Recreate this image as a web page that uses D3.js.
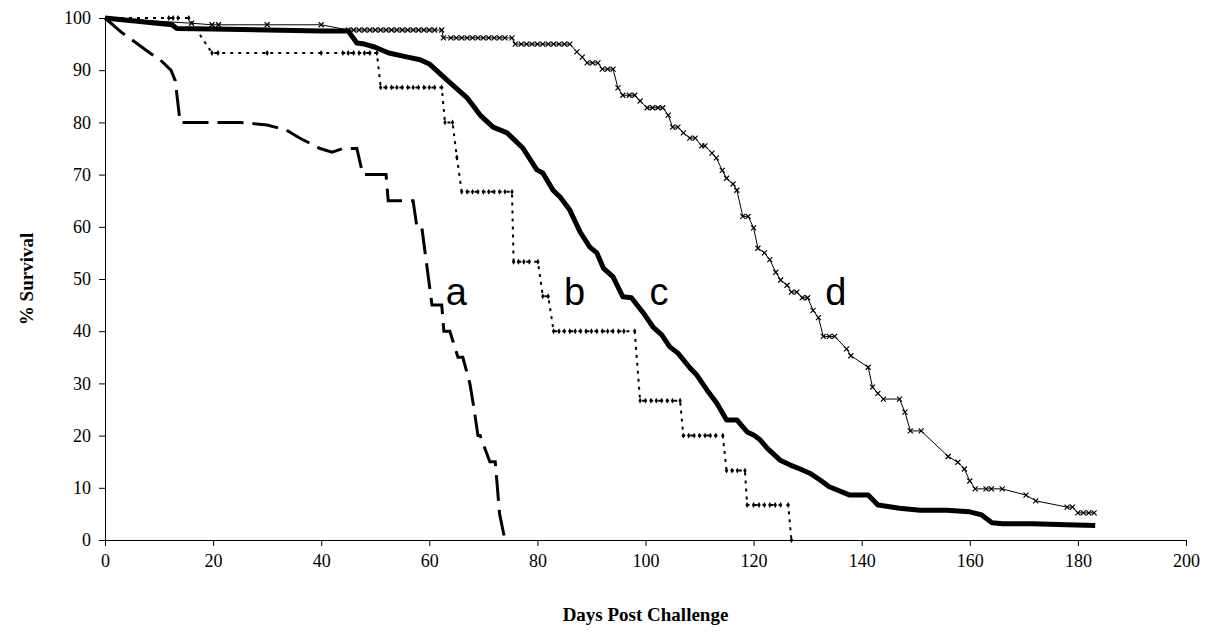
<!DOCTYPE html>
<html>
<head>
<meta charset="utf-8">
<script src="https://cdnjs.cloudflare.com/ajax/libs/d3/7.8.5/d3.min.js"></script>
<style>
  body { margin: 0; background: #fff; }
  .tick text { font-family: "Liberation Serif", "Times New Roman", serif; font-size: 18px; fill: #000; }
  .axis-title { font-family: "Liberation Serif", "Times New Roman", serif; font-size: 19px; font-weight: bold; }
  .curve-label { font-family: "Liberation Sans", Arial, sans-serif; font-size: 38px; }
</style>
</head>
<body>
<div id="chart"></div>
<script>
var svgWidth = 1213;
var svgHeight = 632;

var margin = { top: 18, right: 27, bottom: 92, left: 105 };
var width = svgWidth - margin.left - margin.right;
var height = svgHeight - margin.top - margin.bottom;

// datos: [dias, % supervivencia]
var xTicks = [0, 20, 40, 60, 80, 100, 120, 140, 160, 180, 200];
var yTicks = [0, 10, 20, 30, 40, 50, 60, 70, 80, 90, 100];

var curveA = [[0, 100], [3, 97.3], [5, 95.8], [8.3, 93.3], [10.2, 92], [12.2, 90], [13, 88], [13.9, 80],
  [20, 80], [25, 80], [30, 79.5], [33.6, 78.5], [36, 77], [39.8, 75], [42, 74.3], [44, 75], [46.6, 75],
  [47.7, 70], [52, 70], [52.4, 65], [57, 65], [57.7, 60], [58.6, 60], [60.5, 45], [62.3, 45], [62.7, 40],
  [63.8, 40], [65.3, 35], [66.2, 35], [67.5, 30], [68.3, 25], [69, 20], [69.4, 20], [71.2, 15], [72.2, 15],
  [73, 5], [74, 0]];

var curveB = [[0, 100], [11.8, 100], [12.6, 100], [13.5, 100], [15.5, 100],
  [19.8, 93.3], [20.9, 93.3], [30, 93.3], [40, 93.3], [44, 93.3], [45, 93.3], [46, 93.3], [47, 93.3],
  [48, 93.3], [49, 93.3], [50.3, 93.3],
  [51, 86.7], [52, 86.7], [53, 86.7], [54, 86.7], [55, 86.7], [56, 86.7], [57, 86.7], [58, 86.7],
  [59, 86.7], [60, 86.7], [61, 86.7], [62.3, 86.7],
  [62.9, 80], [64.3, 80], [65.1, 73.3],
  [66, 66.7], [67, 66.7], [68, 66.7], [69, 66.7], [70, 66.7], [71, 66.7], [72, 66.7], [73, 66.7],
  [74, 66.7], [75.3, 66.7],
  [75.6, 53.3], [76.5, 53.3], [77.5, 53.3], [78.5, 53.3], [80.1, 53.3],
  [81, 46.7], [82, 46.7],
  [83, 40], [84, 40], [85, 40], [86, 40], [87, 40], [88, 40], [89, 40], [90, 40], [91, 40], [92, 40],
  [93, 40], [94, 40], [95, 40], [96, 40], [98, 40],
  [99, 26.7], [100, 26.7], [101, 26.7], [102, 26.7], [103, 26.7], [104, 26.7], [105, 26.7], [106.4, 26.7],
  [107, 20], [108, 20], [109, 20], [110, 20], [111, 20], [112, 20], [113, 20], [114.3, 20],
  [115, 13.3], [116, 13.3], [117, 13.3], [118.4, 13.3],
  [118.8, 6.7], [120, 6.7], [121, 6.7], [122, 6.7], [123, 6.7], [124, 6.7], [125, 6.7], [126.4, 6.7],
  [127, 0]];

var curveC = [[0, 100], [12.4, 98.7], [13.3, 98], [20, 97.9], [30, 97.7], [40, 97.5], [45, 97.5],
  [46.6, 95.2], [48, 95], [50, 94.4], [52.5, 93.3], [56, 92.5], [58.3, 92], [60, 91.2], [63.3, 88.1],
  [67, 84.7], [69.4, 81.4], [71.8, 79.1], [74.4, 78], [77.3, 75.1], [79.9, 70.9], [81, 70.3], [82.9, 67],
  [84.2, 65.7], [86, 63.2], [87.9, 59], [89.7, 56.1], [91, 55], [92.2, 52.1], [94, 50.4], [95.8, 46.6],
  [97.4, 46.4], [99.6, 43.5], [101.4, 40.8], [103, 39.3], [104.5, 37], [106, 35.8], [108.2, 33],
  [109.5, 31.6], [111.4, 28.7], [113.2, 26.2], [115, 23], [116.9, 23], [118.8, 20.7], [120, 20.1],
  [121.2, 19.2], [122.5, 17.6], [124.9, 15.3], [126.7, 14.4], [128.6, 13.6], [130.4, 12.8], [132.3, 11.5],
  [134, 10.2], [137.8, 8.6], [141.2, 8.6], [143, 6.7], [147, 6.1], [150.8, 5.7], [155.7, 5.7], [160, 5.4],
  [162.2, 4.8], [164.1, 3.3], [166.1, 3.1], [171.7, 3.1], [177.9, 2.9], [183.2, 2.8]];

var curveD = [[0, 100], [16, 99], [19.8, 98.7], [21, 98.7], [30, 98.7], [40, 98.7],
  [45, 97.7], [46, 97.7], [47, 97.7], [48, 97.7], [49, 97.7], [50, 97.7], [51, 97.7], [52, 97.7],
  [53, 97.7], [54, 97.7], [55, 97.7], [56, 97.7], [57, 97.7], [58, 97.7], [59, 97.7], [60, 97.7],
  [61, 97.7], [62.3, 97.7],
  [62.6, 96.2], [64, 96.2], [65, 96.2], [66, 96.2], [67, 96.2], [68, 96.2], [69, 96.2], [70, 96.2],
  [71, 96.2], [72, 96.2], [73, 96.2], [74, 96.2], [75.3, 96.2],
  [75.9, 95], [77, 95], [78, 95], [79, 95], [80, 95], [81, 95], [82, 95], [83, 95], [84, 95], [85, 95], [86, 95],
  [87.3, 93.5], [88.3, 92.5], [89.2, 91.4], [90.2, 91.4], [91.2, 91.4], [92, 90.2], [93, 90.2], [94, 90.2],
  [94.9, 86.6], [95.8, 85.2], [97, 85.2], [98, 85.2], [99, 84.1], [100.3, 82.8], [101.3, 82.8],
  [102.3, 82.8], [103.2, 82.8], [104.2, 81.4], [105, 79.1], [106, 79.1], [107, 78], [108.2, 77],
  [109.2, 77], [110.4, 75.5], [111, 75.5], [112.3, 74.1], [113.1, 73.2], [114.2, 70.8], [115, 69.3],
  [116.2, 68.2], [116.9, 67], [118, 62], [119, 62], [120, 59.8], [120.8, 55.9], [122, 55], [123, 53.7],
  [124.1, 51.3], [125, 49.8], [126.2, 48.8], [127, 47.5], [128, 47.5], [129, 46.4], [130, 46.4],
  [131, 44], [132, 42.6], [132.9, 39], [134, 39], [135, 39], [137.2, 36.6], [138, 35.3], [141.2, 33.1],
  [142, 29.3], [143, 28.1], [144, 27], [147, 27], [148, 24.5], [149, 20.9], [151, 20.9], [156, 16],
  [157.8, 14.9], [159, 13.6], [160, 11.3], [161, 9.8], [163, 9.8], [164, 9.8], [166, 9.8], [170.4, 8.6],
  [172.2, 7.5], [178, 6.3], [179, 6.3], [180, 5.2], [181, 5.2], [182, 5.2], [183, 5.2]];

var curveNames = ["a", "b", "c", "d"];
var namePos = [[65, 45], [86.9, 45], [102.5, 45], [135.2, 45]];

var svg = d3.select("#chart")
  .append("svg")
  .attr("width", svgWidth)
  .attr("height", svgHeight);

var chartGroup = svg.append("g")
  .attr("transform", `translate(${margin.left}, ${margin.top})`);

var xScale = d3.scaleLinear().domain([0, 200]).range([0, width]);
var yScale = d3.scaleLinear().domain([0, 100]).range([height, 0]);

// ejes
var xAxis = chartGroup.append("g")
  .attr("transform", `translate(0, ${height})`)
  .call(d3.axisBottom(xScale).tickValues(xTicks).tickSize(6).tickPadding(8).tickSizeOuter(0));

var yAxis = chartGroup.append("g")
  .call(d3.axisLeft(yScale).tickValues(yTicks).tickSize(6).tickPadding(8).tickSizeOuter(0));

chartGroup.selectAll(".domain").attr("stroke", "#000");
chartGroup.selectAll(".tick line").attr("stroke", "#000");

var line = d3.line()
  .x(d => xScale(d[0]))
  .y(d => yScale(d[1]));

// curva a: discontinua gruesa
chartGroup.append("path")
  .datum(curveA)
  .attr("d", line)
  .attr("fill", "none")
  .attr("stroke", "#000")
  .attr("stroke-width", 3)
  .attr("stroke-dasharray", "26,9");

// curva b: punteada con marcadores
chartGroup.append("path")
  .datum(curveB)
  .attr("d", line)
  .attr("fill", "none")
  .attr("stroke", "#000")
  .attr("stroke-width", 2)
  .attr("stroke-dasharray", "3,5");

chartGroup.selectAll(".mark-b")
  .data(curveB.slice(1))
  .enter()
  .append("path")
  .attr("class", "mark-b")
  .attr("transform", d => `translate(${xScale(d[0])}, ${yScale(d[1])})`)
  .attr("d", d3.symbol().type(d3.symbolDiamond).size(10))
  .attr("fill", "#000");

// curva c: linea gruesa continua
chartGroup.append("path")
  .datum(curveC)
  .attr("d", line)
  .attr("fill", "none")
  .attr("stroke", "#000")
  .attr("stroke-width", 5)
  .attr("stroke-linejoin", "round");

// curva d: linea fina con cruces
chartGroup.append("path")
  .datum(curveD)
  .attr("d", line)
  .attr("fill", "none")
  .attr("stroke", "#000")
  .attr("stroke-width", 1);

chartGroup.selectAll(".mark-d")
  .data(curveD.slice(1))
  .enter()
  .append("path")
  .attr("class", "mark-d")
  .attr("transform", d => `translate(${xScale(d[0])}, ${yScale(d[1])})`)
  .attr("d", "M-2.5,-2.5L2.5,2.5M-2.5,2.5L2.5,-2.5")
  .attr("stroke", "#000")
  .attr("stroke-width", 1.2);

// etiquetas de curvas
chartGroup.selectAll(".curve-label")
  .data(curveNames)
  .enter()
  .append("text")
  .attr("class", "curve-label")
  .attr("x", (d, i) => xScale(namePos[i][0]))
  .attr("y", (d, i) => yScale(namePos[i][1]))
  .attr("text-anchor", "middle")
  .text(d => d);

// titulos de ejes
chartGroup.append("text")
  .attr("class", "axis-title")
  .attr("x", width / 2)
  .attr("y", height + 81)
  .attr("text-anchor", "middle")
  .text("Days Post Challenge");

chartGroup.append("text")
  .attr("class", "axis-title")
  .attr("transform", "rotate(-90)")
  .attr("x", 0 - height / 2)
  .attr("y", 0 - margin.left + 33)
  .attr("text-anchor", "middle")
  .text("% Survival");
</script>
</body>
</html>
